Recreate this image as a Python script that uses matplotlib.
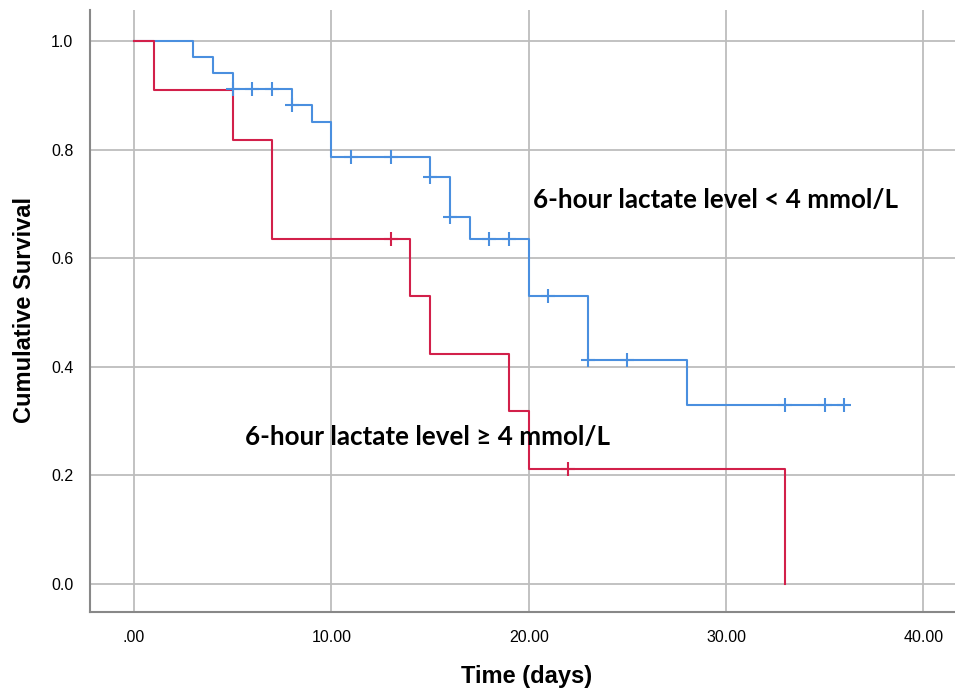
import matplotlib.pyplot as plt

# Kaplan-Meier estimates
low_times = [0, 3, 4, 5, 8, 9, 10, 15, 16, 17, 20, 23, 28, 36]
low_surv = [1.0, 0.971, 0.941, 0.912, 0.882, 0.851, 0.787, 0.750, 0.675, 0.635, 0.531, 0.413, 0.330, 0.330]
low_cens_t = [5, 6, 7, 8, 11, 13, 15, 16, 18, 19, 21, 23, 25, 33, 35, 36]

high_times = [0, 1, 5, 7, 14, 15, 19, 20, 33]
high_surv = [1.0, 0.909, 0.818, 0.636, 0.530, 0.424, 0.318, 0.212, 0.0]
high_cens_t = [13, 22]

xticks = [0, 10, 20, 30, 40]
xtick_labels = ['.00', '10.00', '20.00', '30.00', '40.00']
yticks = [0.0, 0.2, 0.4, 0.6, 0.8, 1.0]

blue = '#4a8fdf'
red = '#d2204a'


def surv_at(times, surv, t):
    s = surv[0]
    for ti, si in zip(times, surv):
        if ti <= t:
            s = si
    return s


fig = plt.figure(figsize=(9.55, 6.91), dpi=100)
ax = fig.add_axes([90/955, 79/691, 865/955, 602/691])

ax.step(low_times, low_surv, where='post', color=blue, lw=1.5, zorder=3)
ax.step(high_times, high_surv, where='post', color=red, lw=1.5, zorder=3)
ax.plot(low_cens_t, [surv_at(low_times, low_surv, t) for t in low_cens_t],
        '+', color=blue, ms=10, mew=1.5, zorder=4)
ax.plot(high_cens_t, [surv_at(high_times, high_surv, t) for t in high_cens_t],
        '+', color=red, ms=10, mew=1.5, zorder=4)

ax.set_xlim(-2.23, 41.6)
ax.set_ylim(-0.0516, 1.057)
ax.set_xticks(xticks)
ax.set_xticklabels(xtick_labels)
ax.set_yticks(yticks)
ax.set_yticklabels(['%.1f' % v for v in yticks])
ax.grid(True, color='#bdbdbd', lw=1.3)
ax.set_axisbelow(True)
ax.tick_params(length=0, labelsize=11.5)
ax.tick_params(axis='x', pad=13)
ax.tick_params(axis='y', pad=12)
for lab in ax.get_xticklabels() + ax.get_yticklabels():
    lab.set_family('Liberation Sans')
for s in ['top', 'right']:
    ax.spines[s].set_visible(False)
for s in ['left', 'bottom']:
    ax.spines[s].set_color('#888888')
    ax.spines[s].set_linewidth(1.5)

fig.text(527/955, 1 - 676/691, 'Time (days)', family='Liberation Sans',
         fontsize=17, fontweight='bold', ha='center', va='center')
fig.text(25/955, 1 - 310/691, 'Cumulative Survival', family='Liberation Sans',
         fontsize=17, fontweight='bold', ha='center', va='center', rotation=90)

ax.text(20.2, 0.707, '6-hour lactate level < 4 mmol/L', family=['Lato', 'DejaVu Sans'],
        fontweight='bold', fontsize=18.7, va='center', ha='left')
ax.text(5.63, 0.271, '6-hour lactate level \u2265 4 mmol/L', family=['Lato', 'DejaVu Sans'],
        fontweight='bold', fontsize=18.7, va='center', ha='left')

fig.savefig('out.png', dpi=100)
